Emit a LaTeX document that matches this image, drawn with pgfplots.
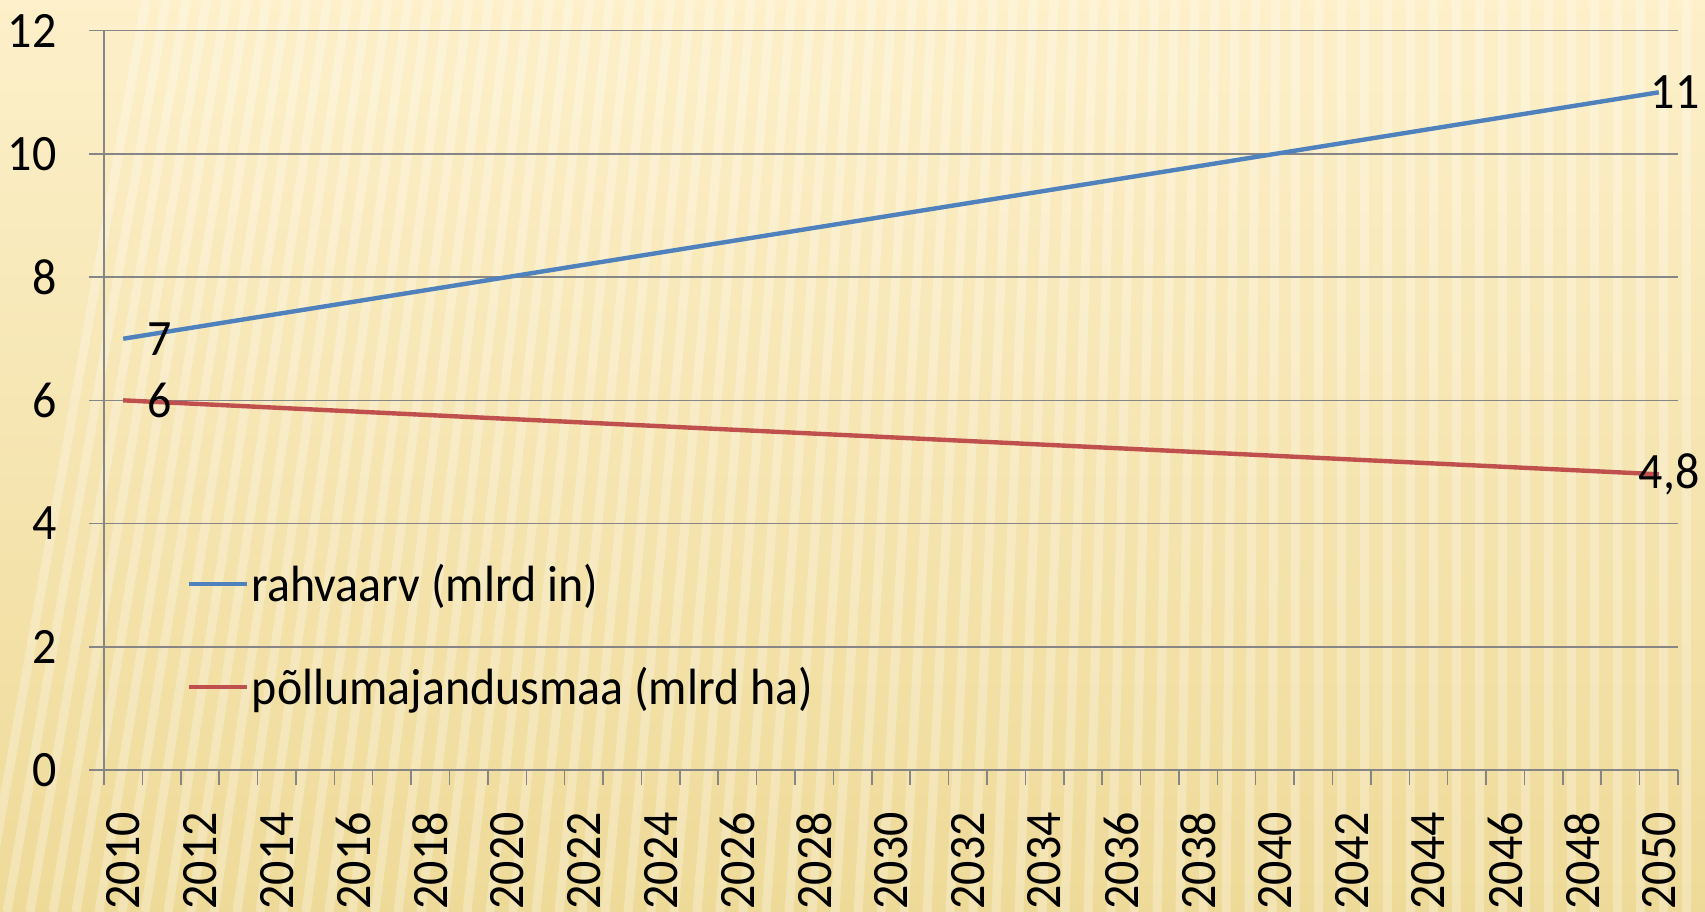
\documentclass[border=0pt]{standalone}
\usepackage{pgfplots}
\pgfplotsset{compat=1.18}
\usepackage{fontspec}
\setmainfont[FakeStretch=0.94]{Carlito}
\definecolor{exblue}{RGB}{79,129,189}
\definecolor{exred}{RGB}{192,80,77}
\definecolor{gridgray}{RGB}{134,134,134}
\definecolor{bgtop}{RGB}{253,240,202}
\definecolor{bgbot}{RGB}{238,218,152}
\newcommand\cf{\fontsize{25.5bp}{30bp}\selectfont}
\begin{document}
\begin{tikzpicture}
\useasboundingbox (-52bp,-71bp) rectangle (800.5bp,385bp);
\shade[top color=bgtop, bottom color=bgbot] (-52bp,-71bp) rectangle (800.5bp,385bp);
\begin{scope}
\clip (-52bp,-71bp) rectangle (800.5bp,385bp);
\foreach \i in {0,...,80}{
  \pgfmathsetmacro{\xb}{-60+11.5*\i}
  \pgfmathsetmacro{\xt}{\xb+max(0,80*(1-(\xb+52)/650))}
  \draw[white, opacity=0.28, line width=4.5bp] (\xb bp,-71bp) -- (\xt bp,385bp);
}
\end{scope}
\begin{axis}[
  at={(0,0)}, anchor=south west,
  scale only axis,
  width=787bp, height=369.65bp,
  xmin=2009.5, xmax=2050.5,
  ymin=0, ymax=12,
  ytick={0,2,4,6,8,10,12},
  xtick={2009.5,2010.5,...,2050.5},
  xticklabels={},
  extra x ticks={2010,2012,2014,2016,2018,2020,2022,2024,2026,2028,2030,2032,2034,2036,2038,2040,2042,2044,2046,2048,2050},
  extra x tick labels={2010,2012,2014,2016,2018,2020,2022,2024,2026,2028,2030,2032,2034,2036,2038,2040,2042,2044,2046,2048,2050},
  extra x tick style={major tick length=0pt, xmajorgrids=false},
  axis lines*=left,
  axis line style={gridgray, line width=0.75bp},
  tick style={gridgray, line width=0.75bp},
  tick align=outside,
  major tick length=7.5bp,
  xtick pos=bottom, ytick pos=left,
  ymajorgrids=true,
  major grid style={gridgray, line width=0.75bp},
  /pgf/number format/1000 sep={},
  /pgf/number format/assume math mode=true,
  yticklabel style={font=\cf, inner sep=0pt, xshift=-16bp},
  xticklabel style={font=\cf, rotate=90, anchor=east, inner sep=0pt, xshift=-21bp},
  legend style={draw=none, fill=none, font=\cf, at={(0.0525,0.182)}, anchor=west,
    row sep=29bp, inner sep=0pt, nodes={inner sep=1.2bp}},
  legend cell align=left,
  legend image code/.code={\draw[#1] (0bp,0bp) -- (29bp,0bp);},
  clip=false,
]
\addplot[exblue, line width=2.2bp] coordinates {
(2010,7.0) (2011,7.1) (2012,7.2) (2013,7.3) (2014,7.4) (2015,7.5) (2016,7.6) (2017,7.7) (2018,7.8) (2019,7.9)
(2020,8.0) (2021,8.1) (2022,8.2) (2023,8.3) (2024,8.4) (2025,8.5) (2026,8.6) (2027,8.7) (2028,8.8) (2029,8.9)
(2030,9.0) (2031,9.1) (2032,9.2) (2033,9.3) (2034,9.4) (2035,9.5) (2036,9.6) (2037,9.7) (2038,9.8) (2039,9.9)
(2040,10.0) (2041,10.1) (2042,10.2) (2043,10.3) (2044,10.4) (2045,10.5) (2046,10.6) (2047,10.7) (2048,10.8) (2049,10.9)
(2050,11.0)};
\addlegendentry{rahvaarv (mlrd in)}
\addplot[exred, line width=2.2bp] coordinates {
(2010,6.00) (2011,5.97) (2012,5.94) (2013,5.91) (2014,5.88) (2015,5.85) (2016,5.82) (2017,5.79) (2018,5.76) (2019,5.73)
(2020,5.70) (2021,5.67) (2022,5.64) (2023,5.61) (2024,5.58) (2025,5.55) (2026,5.52) (2027,5.49) (2028,5.46) (2029,5.43)
(2030,5.40) (2031,5.37) (2032,5.34) (2033,5.31) (2034,5.28) (2035,5.25) (2036,5.22) (2037,5.19) (2038,5.16) (2039,5.13)
(2040,5.10) (2041,5.07) (2042,5.04) (2043,5.01) (2044,4.98) (2045,4.95) (2046,4.92) (2047,4.89) (2048,4.86) (2049,4.83)
(2050,4.80)};
\addlegendentry{põllumajandusmaa (mlrd ha)}
\addplot[draw=none, forget plot, nodes near coords, point meta=explicit symbolic,
  nodes near coords style={font=\cf, anchor=west, inner sep=0pt, xshift=12bp, text=black}]
  coordinates {(2010,7) [7] (2010,6) [6]};
\addplot[draw=none, forget plot, nodes near coords, point meta=explicit symbolic,
  nodes near coords style={font=\cf, anchor=east, inner sep=0pt, xshift=20.5bp, text=black}]
  coordinates {(2050,11) [11] (2050,4.8) [4{,}8]};
\end{axis}
\end{tikzpicture}
\end{document}
